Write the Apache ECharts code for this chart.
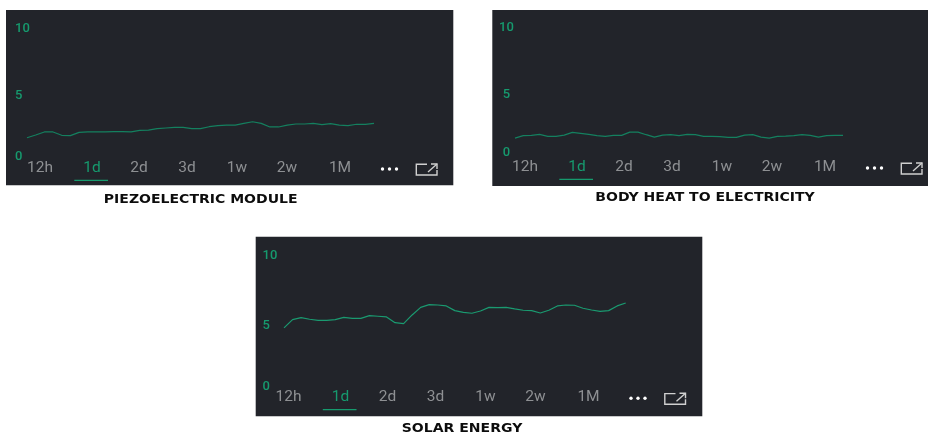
<!DOCTYPE html>
<html><head><meta charset="utf-8">
<style>html,body{margin:0;padding:0;background:#fff}#c{width:928px;height:434px}</style>
<script src="https://cdn.jsdelivr.net/npm/echarts@6/dist/echarts.min.js"></script>
</head><body><div id="c"></div>
<script>
const rangeLabels = ['12h','1d','2d','3d','1w','2w','1M'];
const yTicks = [0,5,10];
const captions = ['PIEZOELECTRIC MODULE','BODY HEAT TO ELECTRICITY','SOLAR ENERGY'];
const piezoValues = [1.35,1.56,1.80,1.80,1.54,1.51,1.77,1.80,1.80,1.80,1.82,1.82,1.80,1.93,1.95,2.06,2.11,2.16,2.16,2.06,2.06,2.21,2.29,2.34,2.34,2.47,2.60,2.47,2.19,2.19,2.34,2.42,2.42,2.47,2.37,2.45,2.34,2.29,2.40,2.40,2.47];
const bodyHeatValues = [1.09,1.28,1.31,1.39,1.23,1.23,1.33,1.55,1.47,1.39,1.28,1.23,1.31,1.31,1.57,1.57,1.36,1.17,1.33,1.36,1.28,1.39,1.36,1.23,1.23,1.20,1.15,1.15,1.33,1.36,1.17,1.09,1.23,1.25,1.28,1.36,1.31,1.17,1.28,1.31,1.31];
const solarValues = [4.38,5.01,5.17,5.04,4.96,4.96,5.01,5.19,5.11,5.11,5.32,5.27,5.22,4.78,4.71,5.37,5.95,6.16,6.13,6.06,5.70,5.57,5.50,5.67,5.95,5.93,5.95,5.83,5.73,5.70,5.52,5.73,6.06,6.13,6.11,5.88,5.75,5.65,5.70,6.06,6.28];

const labelX = [40,92,139,187,237,287,340];
const panels = [
 {values:piezoValues, rect:[6,10,447.3,175.3], grid:[27,27,347,128], dx:0, labelY:167.7, lineY:180.3, cap:[200.7,200], align:'left', margin:12, mid:9, line:'#14805f'},
 {values:bodyHeatValues, rect:[492.3,10,436,176], grid:[515,26.7,328,125], dx:485, labelY:166.7, lineY:179.3, cap:[705,198], align:'center', margin:8.5, mid:11, line:'#14805f'},
 {values:solarValues, rect:[255.7,236.7,446.6,179.6], grid:[284,254.3,341.7,131], dx:248.5, labelY:397, lineY:409.7, cap:[462,429], align:'left', margin:21.5, mid:11, line:'#1a9a70'}
];
const GREEN='#169a6e', GRAY='#8e9093', FONT='Roboto, "Noto Sans", sans-serif';
const graphic=[], grid=[], xAxis=[], yAxis=[], series=[];
panels.forEach((p,i)=>{
  grid.push({left:p.grid[0],top:p.grid[1],width:p.grid[2],height:p.grid[3],show:false});
  xAxis.push({type:'category',gridIndex:i,boundaryGap:false,show:false,data:p.values.map((_,k)=>k)});
  const labelStyle={color:GREEN,fontSize:13,fontWeight:500,fontFamily:FONT};
  yAxis.push({type:'value',gridIndex:i,min:yTicks[0],max:yTicks[2],interval:yTicks[1],
    axisLine:{show:false},axisTick:{show:false},splitLine:{show:false},
    axisLabel:Object.assign({},labelStyle,{align:p.align,margin:p.margin,
      formatter:v=>v===5?'{m|5}':'{n|'+v+'}',
      rich:{m:Object.assign({},labelStyle,{padding:[p.mid,0,0,0]}),n:Object.assign({},labelStyle,{padding:[3,0,0,0]})}})});
  series.push({type:'line',xAxisIndex:i,yAxisIndex:i,data:p.values,showSymbol:false,smooth:false,
    lineStyle:{color:p.line,width:1.2},z:5});
  graphic.push({type:'rect',z:-10,shape:{x:p.rect[0],y:p.rect[1],width:p.rect[2],height:p.rect[3]},style:{fill:'#22242a'}});
  rangeLabels.forEach((t,k)=>graphic.push({type:'text',z:4,x:labelX[k]+p.dx,y:p.labelY,
    style:{text:t,fill:k===1?GREEN:GRAY,font:'15.5px '+FONT,textAlign:'center',textVerticalAlign:'middle'}}));
  graphic.push({type:'line',z:4,shape:{x1:74.3+p.dx,y1:p.lineY,x2:108+p.dx,y2:p.lineY},style:{stroke:GREEN,lineWidth:1.3}});
  [382.5,389.5,396.5].forEach(x=>graphic.push({type:'circle',z:4,shape:{cx:x+p.dx,cy:p.labelY+1.3,r:1.7},style:{fill:'#fff'}}));
  const ox=p.dx, oy=p.labelY-167.7, st={stroke:'#d0d0d0',lineWidth:1.4,fill:null};
  graphic.push({type:'polyline',z:4,shape:{points:[[427+ox,164.3+oy],[416.3+ox,164.3+oy],[416.3+ox,175+oy],[437+ox,175+oy],[437+ox,170+oy]]},style:st});
  graphic.push({type:'polyline',z:4,shape:{points:[[428+ox,172+oy],[437+ox,164+oy]]},style:st});
  graphic.push({type:'polyline',z:4,shape:{points:[[431+ox,164+oy],[437+ox,164+oy],[437+ox,169+oy]]},style:st});
  graphic.push({type:'text',z:4,x:p.cap[0],y:p.cap[1],scaleX:1.22,style:{text:captions[i],fill:'#0c0c0c',font:'bold 11.5px "DejaVu Sans", sans-serif',textAlign:'center',textVerticalAlign:'middle'}});
});
const chart=echarts.init(document.getElementById('c'),null,{renderer:'canvas'});
chart.setOption({animation:false,backgroundColor:'#fff',grid,xAxis,yAxis,series,graphic,tooltip:{show:false}});
</script></body></html>
